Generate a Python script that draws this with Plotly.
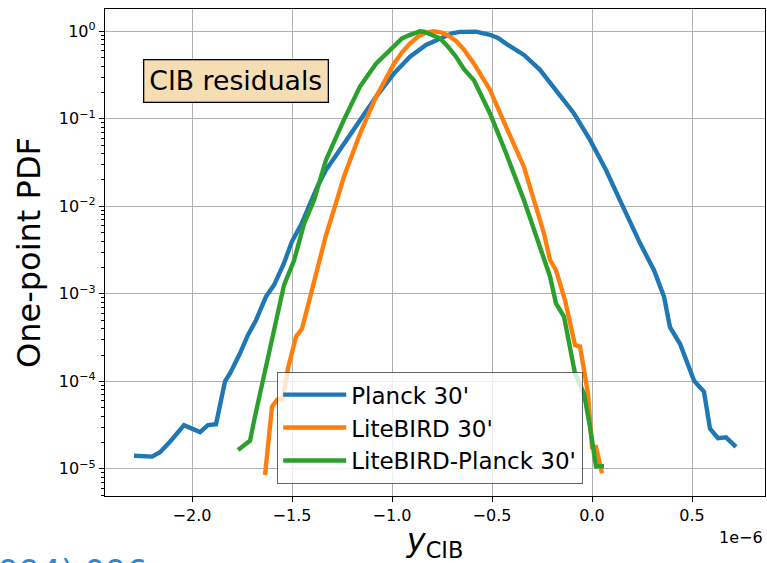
import plotly.graph_objects as go

# x values in units of 1e-6 (axis offset "1e-6")
planck_x = [-2.29, -2.24, -2.20, -2.16, -2.11, -2.04, -2.00, -1.96, -1.92, -1.88, -1.835, -1.81,
            -1.76, -1.72, -1.68, -1.63, -1.59, -1.54, -1.50, -1.45, -1.41, -1.37, -1.33, -1.24,
            -1.16, -1.08, -0.99, -0.91, -0.83, -0.74, -0.70, -0.66, -0.62, -0.58, -0.51, -0.47,
            -0.43, -0.34, -0.26, -0.18, -0.09, -0.01, 0.07, 0.14, 0.19, 0.24, 0.31, 0.36, 0.39,
            0.44, 0.51, 0.56, 0.59, 0.63, 0.67, 0.72]
planck_y = [1.41e-5, 1.41e-5, 1.38e-5, 1.55e-5, 2.04e-5, 3.16e-5, 2.88e-5, 2.63e-5, 3.16e-5, 3.24e-5,
            1.0e-4, 1.23e-4, 2.09e-4, 3.39e-4, 5.0e-4, 9.3e-4, 1.26e-3, 2.24e-3, 3.98e-3, 6.46e-3,
            1.07e-2, 1.74e-2, 2.6e-2, 5.25e-2, 9.8e-2, 0.178, 0.331, 0.513, 0.697, 0.871, 0.95,
            0.985, 1.0, 0.99, 0.912, 0.84, 0.724, 0.537, 0.363, 0.214, 0.115, 0.0575, 0.026,
            0.0117, 6.46e-3, 3.8e-3, 1.86e-3, 9.3e-4, 4.17e-4, 2.69e-4, 1.02e-4, 7.6e-5, 2.88e-5,
            2.24e-5, 2.29e-5, 1.78e-5]

litebird_x = [-1.635, -1.60, -1.575, -1.545, -1.52, -1.48, -1.45, -1.41, -1.37, -1.33, -1.285,
              -1.24, -1.16, -1.08, -0.99, -0.95, -0.91, -0.87, -0.83, -0.79, -0.75, -0.72, -0.68,
              -0.64, -0.59, -0.51, -0.43, -0.34, -0.29, -0.26, -0.24, -0.21, -0.18, -0.135,
              -0.10, -0.085, -0.06, -0.04, -0.02, 0.0, 0.02, 0.05]
litebird_y = [8.5e-6, 5.13e-5, 6.17e-5, 6.3e-5, 1.41e-4, 3.24e-4, 3.98e-4, 9.3e-4, 2.0e-3, 4.68e-3,
              1.0e-2, 2.19e-2, 6.76e-2, 0.178, 0.427, 0.575, 0.724, 0.87, 0.966, 1.0, 0.966, 0.9,
              0.776, 0.617, 0.427, 0.214, 0.0813, 0.0282, 0.0117, 6.9e-3, 4.9e-3, 2.45e-3,
              1.86e-3, 8.5e-4, 3.9e-4, 2.6e-4, 2.5e-4, 1.23e-4, 7.24e-5, 1.78e-5, 1.78e-5, 8.9e-6]

combo_x = [-1.77, -1.71, -1.685, -1.66, -1.63, -1.60, -1.585, -1.54, -1.49, -1.44, -1.39, -1.36,
           -1.33, -1.24, -1.16, -1.08, -0.99, -0.95, -0.91, -0.88, -0.86, -0.84, -0.82, -0.79,
           -0.76, -0.72, -0.68, -0.64, -0.59, -0.51, -0.43, -0.34, -0.26, -0.21, -0.18, -0.14,
           -0.085, -0.04, -0.01, 0.015, 0.02, 0.06]
combo_y = [1.64e-5, 2.09e-5, 3.98e-5, 7.24e-5, 1.48e-4, 3.16e-4, 4.57e-4, 1.26e-3, 2.4e-3, 6.3e-3,
           1.17e-2, 2.0e-2, 3.39e-2, 9.8e-2, 0.234, 0.427, 0.661, 0.83, 0.912, 0.977, 1.0, 0.99,
           0.955, 0.9, 0.832, 0.668, 0.513, 0.37, 0.275, 0.115, 0.0407, 0.0117, 3.47e-3, 1.58e-3,
           7.76e-4, 5.5e-4, 1.23e-4, 7.24e-5, 3.02e-5, 1.38e-5, 1.07e-5, 1.07e-5]

series_names = ["Planck 30'", "LiteBIRD 30'", "LiteBIRD-Planck 30'"]
series_colors = ["#1f77b4", "#ff7f0e", "#2ca02c"]

xtick_vals = [-2.0, -1.5, -1.0, -0.5, 0.0, 0.5]
xtick_text = ["\u22122.0", "\u22121.5", "\u22121.0", "\u22120.5", "0.0", "0.5"]
ytick_vals = [1e-5, 1e-4, 1e-3, 1e-2, 1e-1, 1]
ytick_text = ["10<sup>\u22125</sup>", "10<sup>\u22124</sup>", "10<sup>\u22123</sup>",
              "10<sup>\u22122</sup>", "10<sup>\u22121</sup>", "10<sup>0</sup>"]

FONT = "DejaVu Sans"

fig = go.Figure()
for xs, ys, name, col in zip([planck_x, litebird_x, combo_x], [planck_y, litebird_y, combo_y],
                             series_names, series_colors):
    fig.add_trace(go.Scatter(x=xs, y=ys, mode="lines", name=name, legendgroup=name,
                             line=dict(color=col, width=4.4)))

axis_common = dict(showline=True, linecolor="black", linewidth=1.3, mirror=True,
                   showgrid=True, gridcolor="#b0b0b0", gridwidth=1,
                   ticks="outside", ticklen=5, tickwidth=1.2, tickcolor="black",
                   zeroline=False, tickfont=dict(family=FONT, size=16, color="black"))

fig.update_xaxes(range=[-2.435, 0.865], tickvals=xtick_vals, ticktext=xtick_text,
                 title=dict(text="<i>y</i><sub>CIB</sub>", font=dict(family=FONT, size=32),
                            standoff=2),
                 **axis_common)
fig.update_yaxes(type="log", range=[-5.31, 0.255], tickvals=ytick_vals, ticktext=ytick_text,
                 title=dict(text="One-point PDF", font=dict(family=FONT, size=32), standoff=8),
                 minor=dict(ticks="outside", ticklen=3, tickcolor="black", showgrid=False,
                            tickvals=[m * 10.0 ** e for e in range(-6, 1) for m in range(2, 10)]),
                 **axis_common)

fig.add_annotation(text="CIB residuals", xref="paper", yref="paper", x=0.198, y=0.853,
                   xanchor="center", yanchor="middle", showarrow=False,
                   font=dict(family=FONT, size=26.7, color="black"),
                   bgcolor="wheat", bordercolor="black", borderwidth=1.3, borderpad=5)
fig.add_annotation(text="1e\u22126", xref="paper", yref="paper", x=1.0, y=-0.062,
                   xanchor="right", yanchor="top", showarrow=False,
                   font=dict(family=FONT, size=16, color="black"))
fig.add_annotation(text="994) 096", xref="paper", yref="paper", x=-0.165, y=-0.113,
                   xanchor="left", yanchor="top", showarrow=False,
                   font=dict(family=FONT, size=33, color="#2f86d6"))

fig.update_layout(
    width=767, height=563,
    margin=dict(l=105, r=2, t=9, b=67),
    paper_bgcolor="white", plot_bgcolor="white",
    font=dict(family=FONT, color="black"),
    legend=dict(x=0.2606, y=0.2546, xanchor="left", yanchor="top",
                bgcolor="rgba(255,255,255,0.8)", bordercolor="rgba(60,60,60,0.8)", borderwidth=1.2,
                font=dict(family=FONT, size=23, color="black"), itemwidth=63,
                tracegroupgap=0),
)

fig.write_html("out.html")
